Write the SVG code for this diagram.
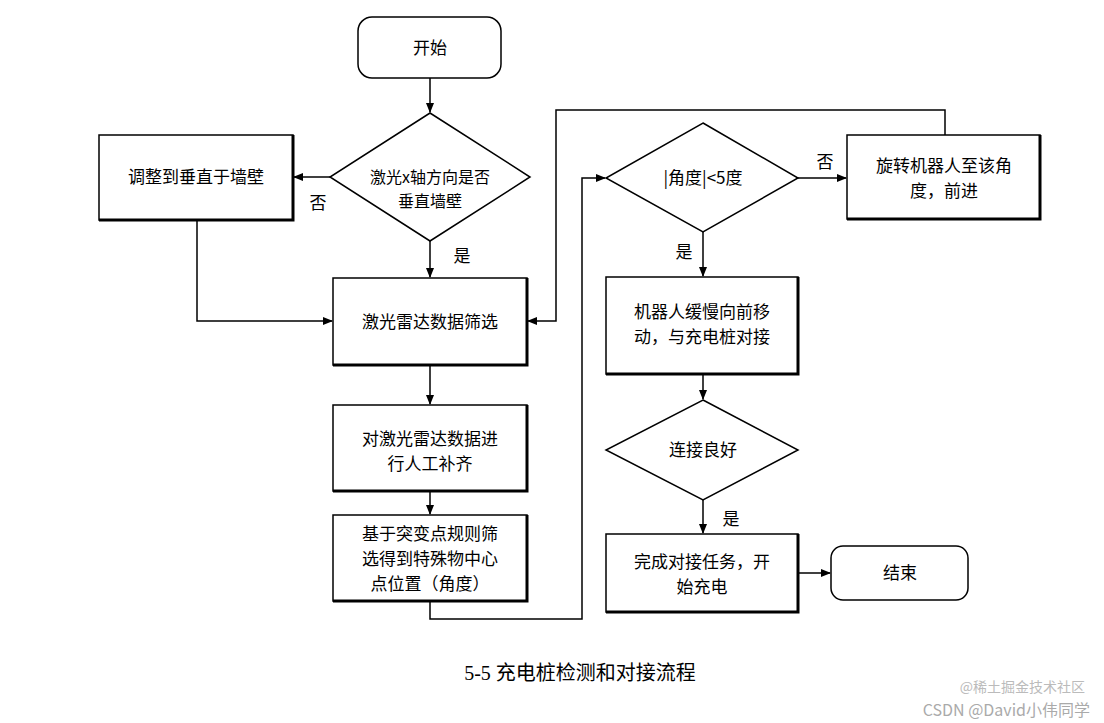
<svg xmlns="http://www.w3.org/2000/svg" width="1104" height="723" viewBox="0 0 1104 723">
<defs>
<style>
.n{fill:#fff;stroke:#000;stroke-width:1.5}
.sh{fill:none;stroke:#000;stroke-width:3}
.t{font-family:"Noto Sans CJK SC","Liberation Serif",serif;font-size:17px;text-anchor:middle;fill:#000}
.c{fill:none;stroke:#000;stroke-width:1.5}
</style>
<marker id="a" markerWidth="10" markerHeight="8" refX="9" refY="4" orient="auto" markerUnits="userSpaceOnUse"><path d="M0,0 L10,4 L0,8 z" fill="#000"/></marker>
</defs>
<rect width="1104" height="723" fill="#fff"/>
<g id="connectors">
<path class="c" d="M430,78 V112" marker-end="url(#a)"/>
<path class="c" d="M330,177 H294" marker-end="url(#a)"/>
<path class="c" d="M430,241 V277" marker-end="url(#a)"/>
<path class="c" d="M197,220 V321 H332" marker-end="url(#a)"/>
<path class="c" d="M430,365 V404" marker-end="url(#a)"/>
<path class="c" d="M430,491 V514" marker-end="url(#a)"/>
<path class="c" d="M430,601 V619 H582 V178 H605" marker-end="url(#a)"/>
<path class="c" d="M798,178 H846" marker-end="url(#a)"/>
<path class="c" d="M945,135 V110 H556 V321 H528" marker-end="url(#a)"/>
<path class="c" d="M703,232 V276" marker-end="url(#a)"/>
<path class="c" d="M703,374 V399" marker-end="url(#a)"/>
<path class="c" d="M703,500 V533" marker-end="url(#a)"/>
<path class="c" d="M798,573 H830" marker-end="url(#a)"/>
<text class="t" x="318" y="209">否</text>
<text class="t" x="462" y="262">是</text>
<text class="t" x="825" y="168">否</text>
<text class="t" x="684" y="258">是</text>
<text class="t" x="731" y="525">是</text>
</g>
<g id="start"><rect class="n" x="358" y="17" width="143" height="61" rx="14"/><text class="t" x="430" y="54">开始</text></g>
<g id="d1"><polygon class="n" points="430,113 530,177 430,241 330,177"/><text class="t" x="430" y="183" style="font-size:16px">激光x轴方向是否</text><text class="t" x="430" y="207" style="font-size:16px">垂直墙壁</text></g>
<g id="adjust"><rect class="n" x="99" y="135" width="194" height="85"/><path class="sh" d="M99,220 H293 V135"/><text class="t" x="196" y="183">调整到垂直于墙壁</text></g>
<g id="filter"><rect class="n" x="333" y="278" width="194" height="87"/><path class="sh" d="M333,365 H527 V278"/><text class="t" x="430" y="328">激光雷达数据筛选</text></g>
<g id="fill"><rect class="n" x="333" y="405" width="194" height="86"/><path class="sh" d="M333,491 H527 V405"/><text class="t" x="430" y="445">对激光雷达数据进</text><text class="t" x="430" y="470">行人工补齐</text></g>
<g id="mut"><rect class="n" x="333" y="515" width="194" height="86"/><path class="sh" d="M333,601 H527 V515"/><text class="t" x="430" y="540">基于突变点规则筛</text><text class="t" x="430" y="565">选得到特殊物中心</text><text class="t" x="430" y="590">点位置（角度）</text></g>
<g id="d2"><polygon class="n" points="703,123 798,178 703,232 606,178"/><text class="t" x="703" y="184">|角度|&lt;5度</text></g>
<g id="rotate"><rect class="n" x="847" y="135" width="193" height="84"/><path class="sh" d="M847,219 H1040 V135"/><text class="t" x="944" y="172">旋转机器人至该角</text><text class="t" x="944" y="197">度，前进</text></g>
<g id="move"><rect class="n" x="606" y="277" width="192" height="97"/><path class="sh" d="M606,374 H798 V277"/><text class="t" x="702" y="318">机器人缓慢向前移</text><text class="t" x="702" y="343">动，与充电桩对接</text></g>
<g id="d3"><polygon class="n" points="703,400 798,450 703,500 606,450"/><text class="t" x="703" y="456">连接良好</text></g>
<g id="done"><rect class="n" x="606" y="534" width="192" height="78"/><path class="sh" d="M606,612 H798 V534"/><text class="t" x="702" y="568">完成对接任务，开</text><text class="t" x="702" y="593">始充电</text></g>
<g id="end"><rect class="n" x="831" y="546" width="137" height="54" rx="12"/><text class="t" x="900" y="579">结束</text></g>
<text x="580" y="680" style="font-family:'Liberation Serif','Noto Sans CJK SC',serif;font-size:20px;text-anchor:middle">5-5 充电桩检测和对接流程</text>
<text x="1085" y="692" style="font-family:'Noto Sans CJK SC',sans-serif;font-size:14px;text-anchor:end;fill:#bbb">@稀土掘金技术社区</text>
<text x="1090" y="716" style="font-family:'Noto Sans CJK SC',sans-serif;font-size:16px;text-anchor:end;fill:#aaa">CSDN @David小伟同学</text>
</svg>
